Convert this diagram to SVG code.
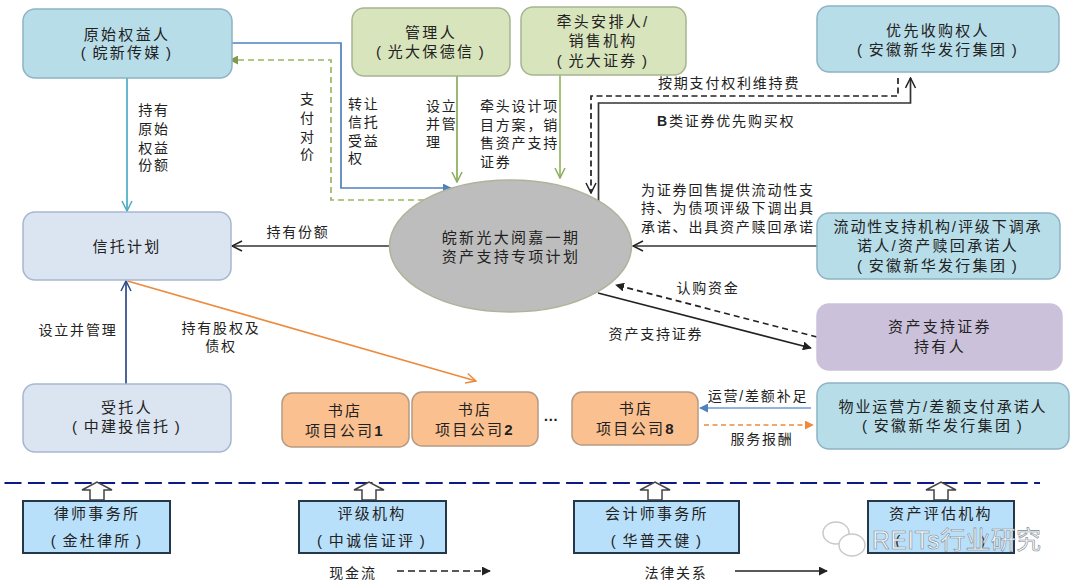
<svg xmlns="http://www.w3.org/2000/svg" width="1080" height="588" viewBox="0 0 1080 588">
<style>
text{font-family:"Liberation Sans","Noto Sans CJK SC",sans-serif;font-size:15px;fill:#222;text-anchor:middle;letter-spacing:2.3px;word-spacing:-2px}
.s{font-size:14px;letter-spacing:1.8px}
.l{text-anchor:start}
.b{font-weight:700}
.n{stroke-width:1.5}
.blue{fill:#b7dde9;stroke:#8fb2c4}
.pale{fill:#dbe5f1;stroke:#a6b6cf}
.green{fill:#d8e4bc;stroke:#a5b592}
.purple{fill:#ccc1da;stroke:#ccc1da}
.orange{fill:#fac090;stroke:#b59a84}
.bot{fill:#b9e0fb;stroke:#25384a;stroke-width:2}
.c{fill:none;stroke-width:1.7}
.open{fill:#fff;stroke:#444;stroke-width:1.5}
</style>
<defs>
<marker id="ab" viewBox="0 0 12 12" refX="11" refY="6" markerWidth="12" markerHeight="12" markerUnits="userSpaceOnUse" orient="auto"><path d="M1 1L11 6L1 11" fill="none" stroke="#222" stroke-width="1.5"/></marker>
<marker id="ateal" viewBox="0 0 12 12" refX="11" refY="6" markerWidth="12" markerHeight="12" markerUnits="userSpaceOnUse" orient="auto"><path d="M1 1L11 6L1 11" fill="none" stroke="#4bacc6" stroke-width="1.5"/></marker>
<marker id="agreen" viewBox="0 0 12 12" refX="11" refY="6" markerWidth="12" markerHeight="12" markerUnits="userSpaceOnUse" orient="auto"><path d="M1 1L11 6L1 11" fill="none" stroke="#8aad5a" stroke-width="1.5"/></marker>
<marker id="anavy" viewBox="0 0 12 12" refX="11" refY="6" markerWidth="12" markerHeight="12" markerUnits="userSpaceOnUse" orient="auto"><path d="M1 1L11 6L1 11" fill="none" stroke="#2f4a8a" stroke-width="1.5"/></marker>
<marker id="aor" viewBox="0 0 12 12" refX="11" refY="6" markerWidth="12" markerHeight="12" markerUnits="userSpaceOnUse" orient="auto"><path d="M1 1L11 6L1 11" fill="none" stroke="#ed8a3c" stroke-width="1.5"/></marker>
<marker id="fb" viewBox="0 0 10 10" refX="9" refY="5" markerWidth="9" markerHeight="9" markerUnits="userSpaceOnUse" orient="auto"><path d="M0 0L10 5L0 10Z" fill="#222"/></marker>
<marker id="fblue" viewBox="0 0 10 10" refX="9" refY="5" markerWidth="9" markerHeight="9" markerUnits="userSpaceOnUse" orient="auto"><path d="M0 0L10 5L0 10Z" fill="#4f81bd"/></marker>
<marker id="fgreen" viewBox="0 0 10 10" refX="9" refY="5" markerWidth="9" markerHeight="9" markerUnits="userSpaceOnUse" orient="auto"><path d="M0 0L10 5L0 10Z" fill="#7f9a48"/></marker>
<marker id="for" viewBox="0 0 10 10" refX="9" refY="5" markerWidth="9" markerHeight="9" markerUnits="userSpaceOnUse" orient="auto"><path d="M0 0L10 5L0 10Z" fill="#ed8a3c"/></marker>
</defs>
<rect width="1080" height="588" fill="#fff"/>
<g id="connectors">
<path class="c" d="M127 78V211" stroke="#4bacc6" marker-end="url(#ateal)"/>
<path class="c" d="M232 43H341V188H451" stroke="#4f81bd" marker-end="url(#fblue)"/>
<path class="c" d="M424 200H331V60H230" stroke="#9bb560" stroke-dasharray="6 4" marker-end="url(#fgreen)"/>
<path class="c" d="M457 76V182" stroke="#8aad5a" marker-end="url(#agreen)"/>
<path class="c" d="M560 75V178" stroke="#9bb560" marker-end="url(#agreen)"/>
<path class="c" d="M390 246H232" stroke="#333" marker-end="url(#ab)"/>
<path class="c" d="M598.500 202V103H910.500V78" stroke="#333" marker-end="url(#ab)"/>
<path class="c" d="M898 78V96H591V193" stroke="#222" stroke-dasharray="6 3.500" marker-end="url(#ab)"/>
<path class="c" d="M817 246H633" stroke="#333" marker-end="url(#ab)"/>
<path class="c" d="M817 337L616 285" stroke="#222" stroke-dasharray="6 4" marker-end="url(#fb)"/>
<path class="c" d="M598 293L811 348" stroke="#222" marker-end="url(#fb)"/>
<path class="c" d="M126 384V281" stroke="#2f4a8a" marker-end="url(#anavy)"/>
<path class="c" d="M127.500 281L476 381" stroke="#ed8a3c" marker-end="url(#aor)"/>
<path class="c" d="M811 408H700" stroke="#6f9bd0" marker-end="url(#fblue)"/>
<path class="c" d="M704 425H813" stroke="#ed8a3c" stroke-dasharray="5 3.500" marker-end="url(#for)"/>
<path d="M4.500 483H1040" fill="none" stroke="#0b1a85" stroke-width="2" stroke-dasharray="17 6.400"/>
<path class="c" d="M397 571H490" stroke="#222" stroke-dasharray="7 4" marker-end="url(#fb)"/>
<path class="c" d="M735 571H827" stroke="#222" marker-end="url(#fb)"/>
<path class="open" d="M90 500V490H82L97 482L112 490H104V500Z"/>
<path class="open" d="M362 500V490H354L369 482L384 490H376V500Z"/>
<path class="open" d="M648 500V490H640L655 482L670 490H662V500Z"/>
<path class="open" d="M934 500V490H926L941 482L956 490H948V500Z"/>
</g>
<g id="n-origin"><rect class="blue n" x="23" y="9" width="209" height="69" rx="12"/><text x="127" y="40">原始权益人</text><text x="127" y="58">( 皖新传媒 )</text></g>
<g id="n-manager"><rect class="green n" x="352" y="8" width="158" height="68" rx="12"/><text x="431" y="38">管理人</text><text x="431" y="57">( 光大保德信 )</text></g>
<g id="n-arranger"><rect class="green n" x="521" y="7" width="165" height="68" rx="12"/><text x="603" y="27">牵头安排人/</text><text x="603" y="46">销售机构</text><text x="603" y="66">( 光大证券 )</text></g>
<g id="n-priority"><rect class="blue n" x="817" y="6" width="242" height="66" rx="12"/><text x="938" y="36">优先收购权人</text><text x="938" y="55">( 安徽新华发行集团 )</text></g>
<g id="n-trust"><rect class="pale n" x="23" y="212" width="208" height="68" rx="12"/><text x="127" y="252">信托计划</text></g>
<g id="n-spv"><ellipse cx="510.500" cy="246" rx="121" ry="66" fill="#bdbdbd" stroke="#b0b39a" stroke-width="1.500"/><text x="511" y="243">皖新光大阅嘉一期</text><text x="511" y="262">资产支持专项计划</text></g>
<g id="n-liquidity"><rect class="blue n" x="817" y="213" width="243" height="66" rx="12"/><text x="938" y="232" style="letter-spacing:1.9px">流动性支持机构/评级下调承</text><text x="938" y="251">诺人/资产赎回承诺人</text><text x="938" y="271">( 安徽新华发行集团 )</text></g>
<g id="n-holder"><rect class="purple n" x="817" y="304" width="245" height="66" rx="12"/><text x="940" y="332">资产支持证券</text><text x="940" y="352">持有人</text></g>
<g id="n-trustee"><rect class="pale n" x="23" y="384" width="208" height="68" rx="12"/><text x="127" y="413">受托人</text><text x="127" y="432">( 中建投信托 )</text></g>
<g id="n-shop1"><rect class="orange n" x="282" y="393" width="127" height="54" rx="10"/><text x="345" y="416">书店</text><text x="345" y="436">项目公司<tspan class="b">1</tspan></text></g>
<g id="n-shop2"><rect class="orange n" x="412" y="392" width="126" height="54" rx="10"/><text x="475" y="415">书店</text><text x="475" y="435">项目公司<tspan class="b">2</tspan></text></g>
<text x="552" y="421" class="b">…</text>
<g id="n-shop8"><rect class="orange n" x="572" y="392" width="126" height="53" rx="10"/><text x="636" y="414">书店</text><text x="636" y="434">项目公司<tspan class="b">8</tspan></text></g>
<g id="n-operator"><rect class="blue n" x="817" y="383" width="252" height="66" rx="12"/><text x="943" y="412" style="letter-spacing:1.9px">物业运营方/差额支付承诺人</text><text x="943" y="431">( 安徽新华发行集团 )</text></g>
<g id="n-law"><rect class="bot" x="23" y="501" width="147" height="52"/><text x="97" y="519">律师事务所</text><text x="97" y="546">( 金杜律所 )</text></g>
<g id="n-rating"><rect class="bot" x="299" y="501" width="147" height="52"/><text x="372" y="519">评级机构</text><text x="372" y="546">( 中诚信证评 )</text></g>
<g id="n-acct"><rect class="bot" x="574" y="501" width="165" height="52"/><text x="657" y="519">会计师事务所</text><text x="657" y="546">( 华普天健 )</text></g>
<g id="n-appraisal"><rect class="bot" x="868" y="501" width="146" height="52"/><text x="941" y="519">资产评估机构</text><text x="899" y="546">(</text><text x="984" y="546">)</text></g>
<g id="labels">
<text class="s" x="154" y="115">持有</text><text class="s" x="154" y="134">原始</text><text class="s" x="154" y="153">权益</text><text class="s" x="154" y="170">份额</text>
<text class="s" x="308" y="104">支</text><text class="s" x="308" y="123">付</text><text class="s" x="308" y="142">对</text><text class="s" x="308" y="159">价</text>
<text class="s l" x="348" y="109">转让</text><text class="s l" x="348" y="127">信托</text><text class="s l" x="348" y="146">受益</text><text class="s l" x="348" y="163">权</text>
<text class="s l" x="426" y="111">设立</text><text class="s l" x="426" y="129">并管</text><text class="s l" x="426" y="147">理</text>
<text class="s l" x="480" y="111">牵头设计项</text><text class="s l" x="480" y="130">目方案，销</text><text class="s l" x="480" y="148">售资产支持</text><text class="s l" x="480" y="167">证券</text>
<text class="s" x="298" y="237">持有份额</text>
<text class="s l" x="658" y="88">按期支付权利维持费</text>
<text class="s l" x="657" y="126"><tspan class="b">B</tspan>类证券优先购买权</text>
<text class="s l" x="641" y="195">为证券回售提供流动性支</text><text class="s l" x="641" y="213">持、为债项评级下调出具</text><text class="s l" x="641" y="232">承诺、出具资产赎回承诺</text>
<text class="s" x="708" y="293">认购资金</text>
<text class="s" x="656" y="339">资产支持证券</text>
<text class="s" x="78" y="335">设立并管理</text>
<text class="s" x="221" y="333">持有股权及</text><text class="s" x="221" y="351">债权</text>
<text class="s" x="758" y="401">运营/差额补足</text>
<text class="s" x="762" y="444">服务报酬</text>
<text class="s" x="353" y="578">现金流</text>
<text class="s" x="676" y="578">法律关系</text>
</g>
<g id="watermark">
<g fill="#fff" stroke="#c9c9c9" stroke-width="1.500"><ellipse cx="836" cy="533" rx="13" ry="11"/><ellipse cx="852" cy="545" rx="13" ry="11"/></g>
<text x="872" y="549" class="l" style="font-size:25px;letter-spacing:.3px;fill:#f6f8fa;stroke:#7f8a92;stroke-width:.6">REITs行业研究</text>
</g>
</svg>
